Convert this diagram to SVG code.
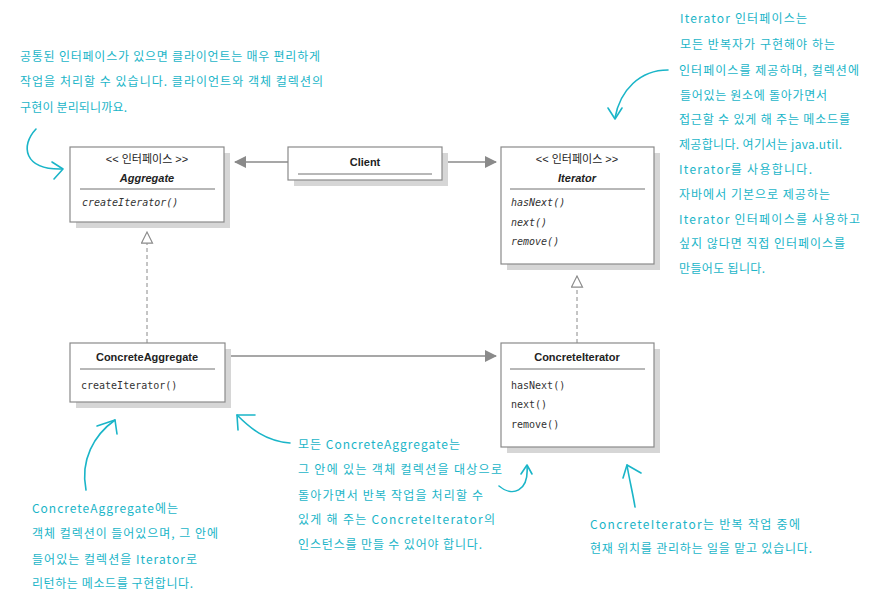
<svg xmlns="http://www.w3.org/2000/svg" width="869" height="604" viewBox="0 0 869 604">
<defs>
<style>
.box{fill:#fff;stroke:#8a8a8a;stroke-width:1.2}
.shadow{fill:#d6d6d6}
.sep{stroke:#707070;stroke-width:1}
.title{font-family:"Liberation Sans","Noto Sans CJK KR",sans-serif;font-size:11px;fill:#222;text-anchor:middle}
.name{font-family:"Liberation Sans",sans-serif;font-size:11px;font-weight:bold;fill:#222;text-anchor:middle}
.iname{font-family:"Liberation Sans",sans-serif;font-size:11px;font-weight:bold;font-style:italic;fill:#222;text-anchor:middle}
.m{font-family:"DejaVu Sans Mono","Liberation Mono",monospace;font-size:10px;fill:#333}
.im{font-family:"DejaVu Sans Mono","Liberation Mono",monospace;font-size:10px;font-style:italic;fill:#333}
.line{stroke:#8a8a8a;stroke-width:1.3;fill:none}
.dash{stroke:#8a8a8a;stroke-width:1;fill:none;stroke-dasharray:4 3}
.note{font-family:"Noto Sans CJK KR","Noto Sans",sans-serif;font-size:12px;fill:#1ab5c8}
.curve{stroke:#1ab5c8;stroke-width:1.6;fill:none;stroke-linecap:round;stroke-linejoin:round}
</style>
<marker id="arr" viewBox="0 0 12 12" refX="11" refY="6" markerWidth="12" markerHeight="12" markerUnits="userSpaceOnUse" orient="auto">
<path d="M0,0 L12,6 L0,12 Z" fill="#8a8a8a"/>
</marker>
<marker id="tri" viewBox="0 0 14 14" refX="13" refY="7" markerWidth="13" markerHeight="13" markerUnits="userSpaceOnUse" orient="auto">
<path d="M1,1 L13,7 L1,13 Z" fill="#fff" stroke="#8a8a8a" stroke-width="1.2"/>
</marker>
</defs>
<rect width="869" height="604" fill="#fff"/>

<g id="connectors">
<line class="line" x1="288" y1="162" x2="235" y2="162" marker-end="url(#arr)"/>
<line class="line" x1="448" y1="162" x2="496" y2="162" marker-end="url(#arr)"/>
<line class="line" x1="231" y1="356" x2="496" y2="356" marker-end="url(#arr)"/>
<line class="dash" x1="147" y1="343" x2="147" y2="232" marker-end="url(#tri)"/>
<line class="dash" x1="577" y1="343" x2="577" y2="276" marker-end="url(#tri)"/>
</g>

<g id="aggregate">
<rect class="shadow" x="76" y="153" width="154" height="75"/>
<rect class="box" x="70" y="147" width="154" height="75"/>
<text class="title" x="147" y="163">&lt;&lt; 인터페이스 &gt;&gt;</text>
<text class="iname" x="147" y="182">Aggregate</text>
<line class="sep" x1="80" y1="189" x2="215" y2="189"/>
<text class="im" x="82" y="206">createIterator()</text>
</g>

<g id="client">
<rect class="shadow" x="294" y="153" width="154" height="33"/>
<rect class="box" x="288" y="147" width="154" height="33"/>
<text class="name" x="365" y="166">Client</text>
<line class="sep" x1="298" y1="174" x2="432" y2="174"/>
</g>

<g id="iterator">
<rect class="shadow" x="507" y="153" width="153" height="117"/>
<rect class="box" x="501" y="147" width="153" height="117"/>
<text class="title" x="577" y="163">&lt;&lt; 인터페이스 &gt;&gt;</text>
<text class="iname" x="577" y="182">Iterator</text>
<line class="sep" x1="510" y1="189" x2="645" y2="189"/>
<text class="im" x="511" y="206">hasNext()</text>
<text class="im" x="511" y="226">next()</text>
<text class="im" x="511" y="245">remove()</text>
</g>

<g id="concreteAggregate">
<rect class="shadow" x="76" y="349" width="155" height="59"/>
<rect class="box" x="70" y="343" width="155" height="59"/>
<text class="name" x="147" y="361">ConcreteAggregate</text>
<line class="sep" x1="80" y1="369" x2="215" y2="369"/>
<text class="m" x="81" y="389">createIterator()</text>
</g>

<g id="concreteIterator">
<rect class="shadow" x="507" y="349" width="153" height="104"/>
<rect class="box" x="501" y="343" width="153" height="104"/>
<text class="name" x="577" y="361">ConcreteIterator</text>
<line class="sep" x1="510" y1="369" x2="645" y2="369"/>
<text class="m" x="511" y="389">hasNext()</text>
<text class="m" x="511" y="408">next()</text>
<text class="m" x="511" y="428">remove()</text>
</g>

<g id="note-client">
<text class="note" x="20" y="61" textLength="300">공통된 인터페이스가 있으면 클라이언트는 매우 편리하게</text>
<text class="note" x="20" y="86" textLength="303">작업을 처리할 수 있습니다. 클라이언트와 객체 컬렉션의</text>
<text class="note" x="20" y="112" textLength="107">구현이 분리되니까요.</text>
<path class="curve" d="M36,129 C20,146 24,170 62,169"/>
<path class="curve" d="M52,162 L63,169 L54,179"/>
</g>

<g id="note-iterator">
<text class="note" x="680" y="23" textLength="127">Iterator 인터페이스는</text>
<text class="note" x="680" y="49" textLength="155">모든 반복자가 구현해야 하는</text>
<text class="note" x="679" y="75" textLength="180">인터페이스를 제공하며, 컬렉션에</text>
<text class="note" x="680" y="100" textLength="147">들어있는 원소에 돌아가면서</text>
<text class="note" x="679" y="124" textLength="171">접근할 수 있게 해 주는 메소드를</text>
<text class="note" x="679" y="149" textLength="163">제공합니다. 여기서는 java.util.</text>
<text class="note" x="679" y="174" textLength="133">Iterator를 사용합니다.</text>
<text class="note" x="679" y="199" textLength="151">자바에서 기본으로 제공하는</text>
<text class="note" x="679" y="224" textLength="181">Iterator 인터페이스를 사용하고</text>
<text class="note" x="679" y="248" textLength="166">싶지 않다면 직접 인터페이스를</text>
<text class="note" x="679" y="273" textLength="86">만들어도 됩니다.</text>
<path class="curve" d="M668,70 C640,70 620,90 615,118"/>
<path class="curve" d="M608,108 L615,119 L622,108"/>
</g>

<g id="note-concreteAggregate">
<text class="note" x="32" y="513" textLength="146">ConcreteAggregate에는</text>
<text class="note" x="32" y="538" textLength="186">객체 컬렉션이 들어있으며, 그 안에</text>
<text class="note" x="32" y="564" textLength="165">들어있는 컬렉션을 Iterator로</text>
<text class="note" x="32" y="588" textLength="161">리턴하는 메소드를 구현합니다.</text>
<path class="curve" d="M86,490 C80,460 94,435 115,420"/>
<path class="curve" d="M97,426 L115,420 L117,434"/>
</g>

<g id="note-middle">
<text class="note" x="298" y="449" textLength="162">모든 ConcreteAggregate는</text>
<text class="note" x="298" y="474" textLength="204">그 안에 있는 객체 컬렉션을 대상으로</text>
<text class="note" x="298" y="500" textLength="185">돌아가면서 반복 작업을 처리할 수</text>
<text class="note" x="298" y="524" textLength="197">있게 해 주는 ConcreteIterator의</text>
<text class="note" x="298" y="549" textLength="184">인스턴스를 만들 수 있어야 합니다.</text>
<path class="curve" d="M290,443 C265,441 250,428 237,415"/>
<path class="curve" d="M255,415 L237,415 L238,430"/>
<path class="curve" d="M499,486 C512,497 529,492 527,466"/>
<path class="curve" d="M521,474 L527,465 L532,474"/>
</g>

<g id="note-concreteIterator">
<text class="note" x="590" y="529" textLength="210">ConcreteIterator는 반복 작업 중에</text>
<text class="note" x="590" y="553" textLength="222">현재 위치를 관리하는 일을 맡고 있습니다.</text>
<path class="curve" d="M635,507 C633,494 629,478 627,465"/>
<path class="curve" d="M623,478 L627,465 L641,473"/>
</g>
</svg>
